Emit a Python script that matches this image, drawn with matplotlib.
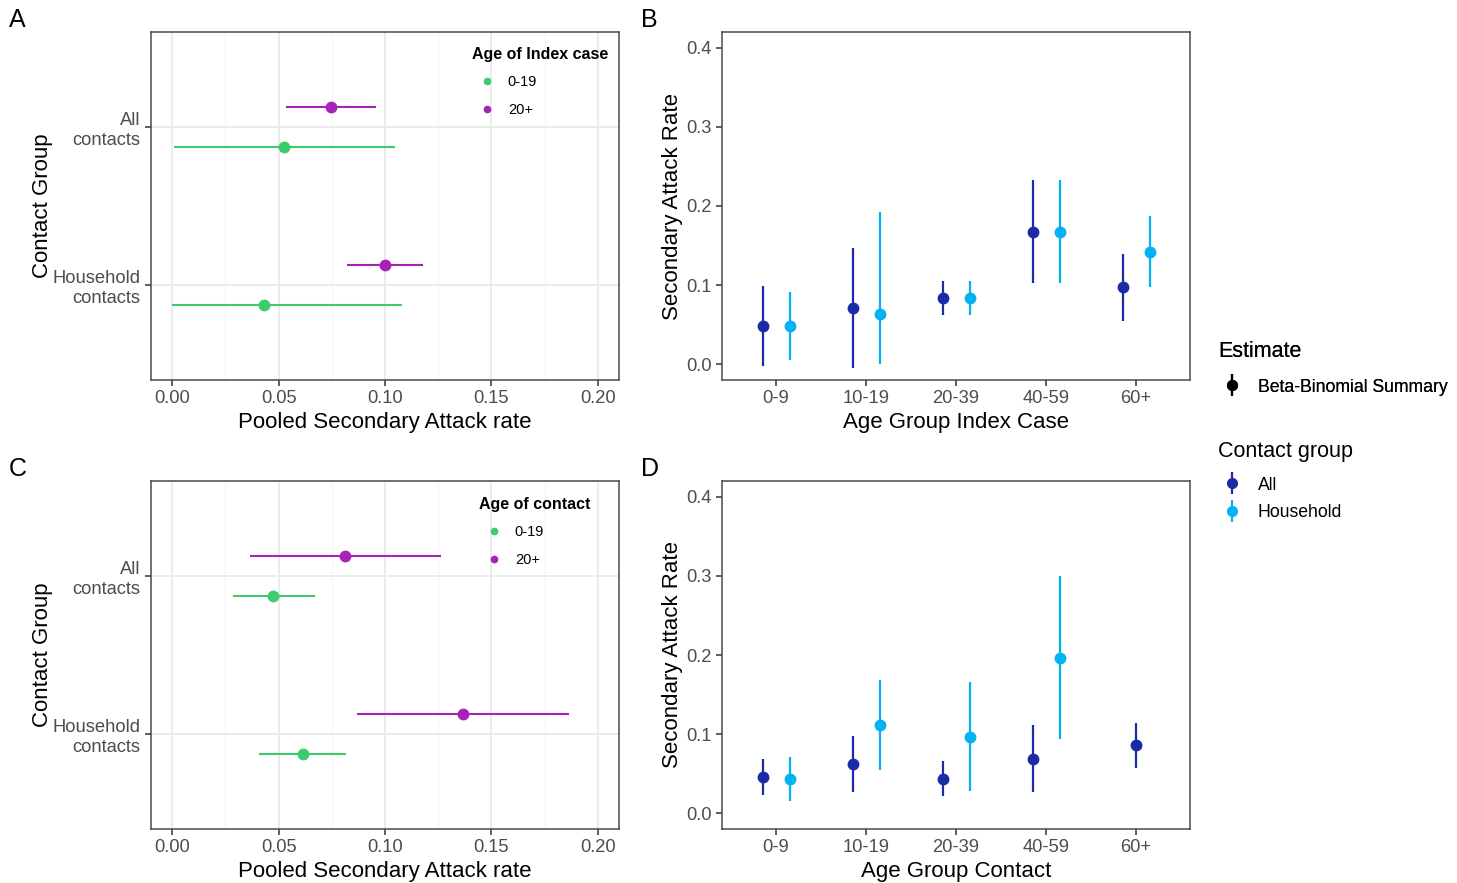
import numpy as np
import matplotlib
matplotlib.use("Agg")
import matplotlib.pyplot as plt
from matplotlib.lines import Line2D
from matplotlib.ticker import MultipleLocator

plt.rcParams["font.family"] = ["Liberation Sans", "DejaVu Sans"]

# ---- data -------------------------------------------------------------
contact_groups = ["Household\ncontacts", "All\ncontacts"]   # bottom -> top
age_bands = ["0-19", "20+"]

# panel A: by age of index case (estimate, lower, upper)
a_young_est = [0.0433, 0.0524]
a_young_lo = [0.0000, 0.0006]
a_young_hi = [0.1079, 0.1045]
a_old_est = [0.1000, 0.0745]
a_old_lo = [0.0820, 0.0533]
a_old_hi = [0.1178, 0.0958]

# panel C: by age of contact
c_young_est = [0.0614, 0.0474]
c_young_lo = [0.0408, 0.0284]
c_young_hi = [0.0819, 0.0671]
c_old_est = [0.1365, 0.0811]
c_old_lo = [0.0868, 0.0365]
c_old_hi = [0.1866, 0.1263]

age_groups = ["0-9", "10-19", "20-39", "40-59", "60+"]

# panel B: by age group of index case
b_all_est = [0.0483, 0.0706, 0.0836, 0.1672, 0.0971]
b_all_lo = [-0.002, -0.005, 0.0622, 0.1025, 0.0550]
b_all_hi = [0.0992, 0.1475, 0.1046, 0.2324, 0.1395]
b_hh_est = [0.0479, 0.0634, 0.0836, 0.1672, 0.1420]
b_hh_lo = [0.0050, 0.0004, 0.0622, 0.1025, 0.0975]
b_hh_hi = [0.0908, 0.1924, 0.1046, 0.2324, 0.1870]

# panel D: by age group of contact (no household estimate for 60+)
d_all_est = [0.0458, 0.0622, 0.0433, 0.0690, 0.0858]
d_all_lo = [0.0236, 0.0269, 0.0219, 0.0269, 0.0572]
d_all_hi = [0.0681, 0.0976, 0.0656, 0.1110, 0.1144]
d_hh_est = [0.0433, 0.1115, 0.0967, 0.1964, np.nan]
d_hh_lo = [0.0160, 0.0543, 0.0278, 0.0938, np.nan]
d_hh_hi = [0.0711, 0.1690, 0.1653, 0.2999, np.nan]

GREEN = "#3dcc6c"
PURPLE = "#a523b6"
NAVY = "#1b2ba8"
SKY = "#02b2f2"
TICK_GREY = "#4d4d4d"
FRAME = "#4a4a4a"

W, H = 1457, 883
fig = plt.figure(figsize=(W / 100, H / 100), dpi=100)


def rect(left, top, right, bottom):
    return [left / W, 1 - bottom / H, (right - left) / W, (bottom - top) / H]


def style_axes(ax):
    for s in ax.spines.values():
        s.set_color(FRAME)
        s.set_linewidth(1.1)
    ax.tick_params(colors="#333333", labelcolor=TICK_GREY, labelsize=13.2,
                   length=4, width=1.1)


def forest(ax, young, old, legend_title, leg_xy):
    y = np.arange(len(contact_groups)) + 1
    for (est, lo, hi), col, off, lab in [(young, GREEN, -0.125, age_bands[0]),
                                         (old, PURPLE, 0.125, age_bands[1])]:
        est, lo, hi = map(np.asarray, (est, lo, hi))
        ax.hlines(y + off, lo, hi, color=col, lw=1.5, zorder=3)
        ax.plot(est, y + off, "o", color=col, ms=7.5, zorder=4, label=lab)
    ax.set_xlim(-0.01, 0.21)
    ax.set_ylim(0.4, 2.6)
    ax.xaxis.set_major_locator(MultipleLocator(0.05))
    ax.xaxis.set_minor_locator(MultipleLocator(0.025))
    ax.set_xticks([0, 0.05, 0.1, 0.15, 0.2], ["0.00", "0.05", "0.10", "0.15", "0.20"])
    ax.set_yticks(y, contact_groups)
    ax.grid(which="major", color="#ebebeb", lw=1.4, zorder=0)
    ax.grid(which="minor", axis="x", color="#f3f3f3", lw=0.8, zorder=0)
    ax.tick_params(axis="x", which="minor", length=0)
    ax.set_axisbelow(True)
    style_axes(ax)
    ax.set_xlabel("Pooled Secondary Attack rate", fontsize=16, labelpad=3)
    ax.set_ylabel("Contact Group", fontsize=16, labelpad=0)
    handles = [Line2D([], [], color=GREEN, marker="o", ls="none", ms=4.5),
               Line2D([], [], color=PURPLE, marker="o", ls="none", ms=4.5)]
    # legend placed by the left edge of its title / top of its box (pixels)
    lx, ly = leg_xy
    leg = ax.legend(handles, age_bands, loc="upper left", frameon=False,
                    title=legend_title, fontsize=10.5, alignment="left",
                    title_fontproperties={"weight": "bold", "size": 11.5},
                    handlelength=2.0, handletextpad=0.45, labelspacing=0.95,
                    borderaxespad=0, bbox_to_anchor=((lx - 5.8) / W, 1 - ly / H),
                    bbox_transform=fig.transFigure)
    return leg


def age_panel(ax, all_vals, hh_vals, xlabel):
    xs = np.arange(len(age_groups)) + 1
    series = [(all_vals, NAVY), (hh_vals, SKY)]
    for i, x in enumerate(xs):
        present = [(v, c) for v, c in series if not np.isnan(v[0][i])]
        n = len(present)
        offs = (np.arange(n) - (n - 1) / 2) * 0.3
        for (vals, col), off in zip(present, offs):
            est, lo, hi = vals
            ax.vlines(x + off, lo[i], hi[i], color=col, lw=1.6, zorder=3)
            ax.plot(x + off, est[i], "o", color=col, ms=7.5, zorder=4)
    ax.set_xlim(0.4, 5.6)
    ax.set_ylim(-0.02, 0.42)
    ax.set_xticks(xs, age_groups)
    ax.set_yticks([0, 0.1, 0.2, 0.3, 0.4], ["0.0", "0.1", "0.2", "0.3", "0.4"])
    style_axes(ax)
    ax.set_xlabel(xlabel, fontsize=16, labelpad=3)
    ax.set_ylabel("Secondary Attack Rate", fontsize=16, labelpad=2)


ax_a = fig.add_axes(rect(151, 32, 619, 380))
ax_b = fig.add_axes(rect(722, 32, 1190, 380))
ax_c = fig.add_axes(rect(151, 481, 619, 829))
ax_d = fig.add_axes(rect(722, 481, 1190, 829))

forest(ax_a, (a_young_est, a_young_lo, a_young_hi),
       (a_old_est, a_old_lo, a_old_hi), "Age of Index case", (472, 40.8))
forest(ax_c, (c_young_est, c_young_lo, c_young_hi),
       (c_old_est, c_old_lo, c_old_hi), "Age of contact", (479, 490.8))
age_panel(ax_b, (b_all_est, b_all_lo, b_all_hi),
          (b_hh_est, b_hh_lo, b_hh_hi), "Age Group Index Case")
age_panel(ax_d, (d_all_est, d_all_lo, d_all_hi),
          (d_hh_est, d_hh_lo, d_hh_hi), "Age Group Contact")

for letter, (px, py) in zip("ABCD", [(9, 20), (641, 20), (9, 469), (641, 469)]):
    fig.text(px / W, 1 - py / H, letter, fontsize=18, va="center", ha="left")

# ---- shared legends on the right ---------------------------------------
def est_handle(col):
    return (Line2D([], [], color=col, marker="|", ms=16, mew=1.6, ls="none"),
            Line2D([], [], color=col, marker="o", ms=7, ls="none"))


leg1 = fig.legend([est_handle("black")], ["Beta-Binomial Summary"],
                  loc="upper left", bbox_to_anchor=(1202 / W, 1 - 325 / H),
                  frameon=False, title="Estimate", fontsize=12.7,
                  title_fontsize=15.5, alignment="left", handlelength=1.6,
                  handletextpad=0.65, labelspacing=0.95)
fig.add_artist(leg1)
leg2 = fig.legend([est_handle(NAVY), est_handle(SKY)], ["All", "Household"],
                  loc="upper left", bbox_to_anchor=(1202 / W, 1 - 425 / H),
                  frameon=False, title="Contact group", fontsize=12.7,
                  title_fontsize=15.5, alignment="left", handlelength=1.6,
                  handletextpad=0.65, labelspacing=0.6)
# wider gap between title and entries than between entries
leg2._legend_box.sep = 10.6

fig.savefig("out.png", dpi=100)
